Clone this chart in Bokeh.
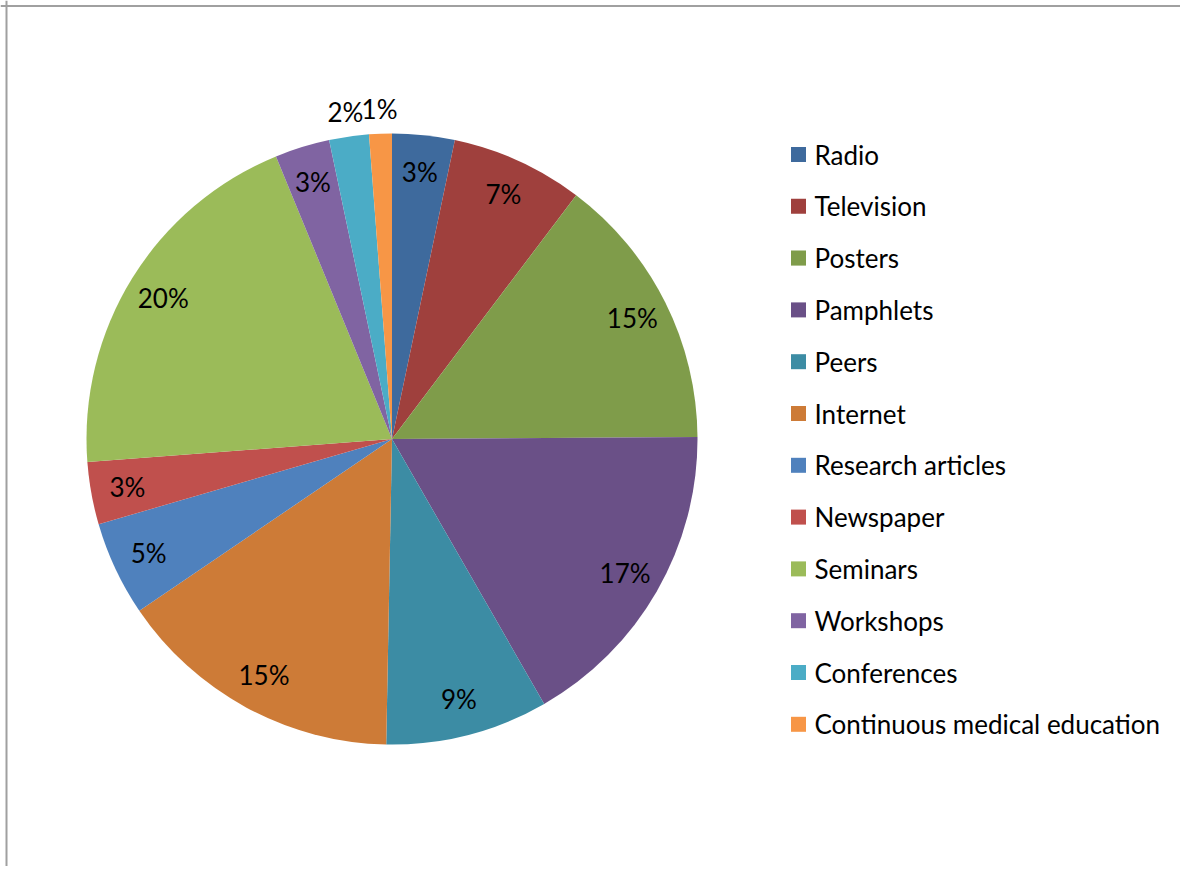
import numpy as np
from bokeh.plotting import figure
from bokeh.models import Range1d, Span, ColumnDataSource
from bokeh.embed import file_html
from bokeh.resources import INLINE
from bokeh.core.properties import value

categories = ["Radio", "Television", "Posters", "Pamphlets", "Peers", "Internet",
              "Research articles", "Newspaper", "Seminars", "Workshops",
              "Conferences", "Continuous medical education"]
shares = [3.3, 7.0, 14.6, 16.8, 8.6, 15.2, 5.0, 3.3, 20.0, 2.9, 2.1, 1.2]
colors = ["#3E6A9D", "#9F403D", "#7F9C4A", "#6A5087", "#3C8CA4", "#CD7B37",
          "#4F81BD", "#C0504D", "#9BBB59", "#8064A2", "#4BACC6", "#F79646"]

FONT = "Lato"
FS = "26px"

W, H = 1180, 866
TOP = 872
p = figure(width=W, height=H, output_backend="svg", toolbar_location=None,
           x_range=Range1d(0, W), y_range=Range1d(TOP - H, TOP),
           x_axis_location=None, y_axis_location=None,
           min_border=0, outline_line_color=None)
p.grid.visible = False
p.background_fill_color = "white"

# frame lines (top and left)
p.add_layout(Span(location=6, dimension="height", line_color="#a0a0a0", line_width=2))
p.add_layout(Span(location=TOP - 5.5, dimension="width", line_color="#a0a0a0", line_width=2))

cx, cy, R = 391.5, TOP - 438.5, 305.5

vals = np.array(shares, dtype=float)
frac = vals / vals.sum()
end_c = np.cumsum(frac)
start_c = end_c - frac
start_a = np.pi / 2 - 2 * np.pi * start_c
end_a = np.pi / 2 - 2 * np.pi * end_c

src = ColumnDataSource(dict(start=start_a, end=end_a, color=colors, cat=categories))
p.wedge(x=cx, y=cy, radius=R, start_angle="start", end_angle="end",
        direction="clock", fill_color="color", line_color=None, source=src)

mid = (start_a + end_a) / 2
lr = np.where(vals >= 2.5, R * 0.88, R + 25)
lx = cx + lr * np.cos(mid)
ly = cy + lr * np.sin(mid)
labels = [f"{int(round(f * 100))}%" for f in frac]
p.text(x=lx, y=ly, text=labels, text_align="center", text_baseline="middle",
       text_font=value(FONT), text_font_size=FS, text_color="black")

# legend
n = len(categories)
ly0 = TOP - 154
step = 51.8
leg_y = ly0 - step * np.arange(n)
p.scatter(x=[798] * n, y=leg_y, marker="square", size=15, fill_color=colors, line_color=None)
p.text(x=[814] * n, y=leg_y, text=categories, text_align="left", text_baseline="middle",
       text_font=value(FONT), text_font_size=FS, text_color="black")

open("out.html", "w").write(file_html(p, INLINE))
